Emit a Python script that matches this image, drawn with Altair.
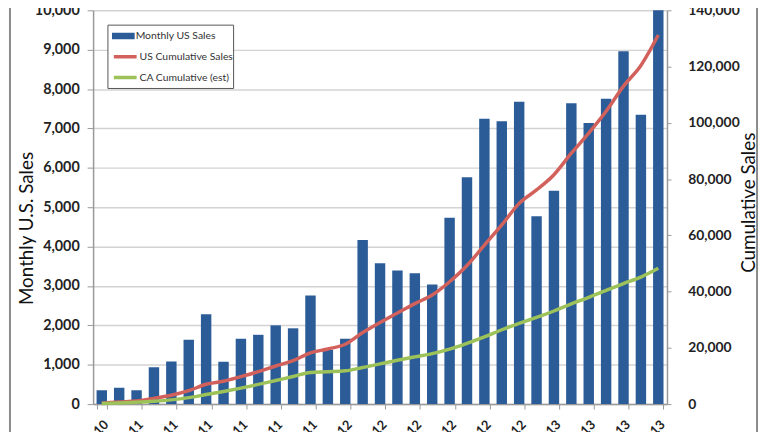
import altair as alt
import pandas as pd

# ---------------- data ----------------
months = [
    "Dec-10", "Jan-11", "Feb-11", "Mar-11", "Apr-11", "May-11", "Jun-11",
    "Jul-11", "Aug-11", "Sep-11", "Oct-11", "Nov-11", "Dec-11", "Jan-12",
    "Feb-12", "Mar-12", "Apr-12", "May-12", "Jun-12", "Jul-12", "Aug-12",
    "Sep-12", "Oct-12", "Nov-12", "Dec-12", "Jan-13", "Feb-13", "Mar-13",
    "Apr-13", "May-13", "Jun-13", "Jul-13", "Aug-13",
]
monthly_us = [
    350, 415, 355, 935, 1080, 1635, 2280, 1075, 1660, 1760, 2000, 1925,
    2755, 1380, 1660, 4170, 3580, 3390, 3325, 3040, 4730, 5760, 7245,
    7180, 7680, 4770, 5415, 7640, 7140, 7755, 8960, 7345, 10100,
]
us_cumulative = [
    350, 765, 1120, 2055, 3135, 4770, 7050, 8125, 9785, 11545, 13545,
    15470, 18225, 19605, 21265, 25435, 29015, 32405, 35730, 38770, 43500,
    49260, 56505, 63685, 71365, 76135, 81550, 89190, 96330, 104085,
    113045, 120390, 131200,
]
ca_cumulative = [
    200, 400, 650, 1000, 1500, 2300, 3400, 4500, 5700, 7000, 8400, 9800,
    11270, 11500, 11830, 13000, 14300, 15600, 16790, 17930, 19540, 21610,
    23910, 26440, 28740, 30800, 33100, 35620, 37930, 40450, 42870, 45170,
    48280,
]
bar_series = ["Monthly US Sales"]
bar_colors = ["#2B5C98"]
line_series = ["US Cumulative Sales", "CA Cumulative (est)"]
line_colors = ["#D2605B", "#9DC25A"]
left_ticks = list(range(0, 10001, 1000))
right_ticks = list(range(0, 140001, 20000))
x_label_months = months[::2]

# ---------------- tables ----------------
bars_df = pd.DataFrame({"month": months, "sales": monthly_us,
                        "series": bar_series * len(months)})
lines_df = pd.DataFrame({
    "month": months + months,
    "value": us_cumulative + ca_cumulative,
    "series": [line_series[0]] * len(months) + [line_series[1]] * len(months),
})
one_row = pd.DataFrame({"a": [0]})

FONT = "Lato"
W, H = 580, 398

legend_common = dict(
    title=None, orient="none", direction="vertical", symbolSize=529,
    labelFont=FONT, labelFontSize=10.5, labelColor="#333", padding=0,
    rowPadding=1, clipHeight=20, labelOffset=1,
)

x_enc = alt.X(
    "month:N", sort=months,
    scale=alt.Scale(paddingInner=0.4, paddingOuter=0.2),
    axis=alt.Axis(
        title=None, values=x_label_months, labelAngle=315,
        labelFont=FONT, labelFontSize=13, labelFontWeight="bold",
        labelColor="#222", tickBand="extent", tickSize=5,
        tickColor="#999", domainColor="#999", domainWidth=1.5,
        labelPadding=9,
    ),
)

bars = alt.Chart(bars_df).mark_bar(clip=True).encode(
    x=x_enc,
    y=alt.Y(
        "sales:Q",
        scale=alt.Scale(domain=[0, 10000], nice=False),
        axis=alt.Axis(
            values=left_ticks, format=",d", labelFont=FONT, labelFontSize=14.5,
            labelFontWeight="bold", labelColor="#222", labelPadding=8,
            tickSize=6, tickColor="#999", domainColor="#999",
            domainWidth=1.5, gridColor="#D3D3D3", gridWidth=1.5,
            title="Monthly U.S. Sales", titleFont=FONT, titleFontSize=19,
            titleFontWeight="normal", titleColor="#111", titleAngle=270,
            titleX=-67, titleY=220, titleAlign="center",
            titleBaseline="middle",
        ),
    ),
    fill=alt.Fill(
        "series:N",
        scale=alt.Scale(domain=bar_series, range=bar_colors),
        legend=alt.Legend(
            legendX=19, legendY=16,
            symbolType="M-1,-0.28H1V0.28H-1Z", symbolStrokeWidth=0,
            **legend_common,
        ),
    ),
)

lines = alt.Chart(lines_df).mark_line(
    strokeWidth=3.5, interpolate="monotone"
).encode(
    x=alt.X("month:N", sort=months),
    y=alt.Y(
        "value:Q",
        scale=alt.Scale(domain=[0, 140000], nice=False),
        axis=alt.Axis(
            orient="right", values=right_ticks, format=",d", grid=False,
            labelFont=FONT, labelFontSize=14, labelFontWeight="bold",
            labelColor="#222", labelPadding=17, tickSize=4,
            tickColor="#999", domainColor="#999", domainWidth=1.5,
            title="Cumulative Sales", titleFont=FONT, titleFontSize=19,
            titleFontWeight="normal", titleColor="#111", titleAngle=270,
            titleX=82, titleY=194, titleAlign="center",
            titleBaseline="middle",
        ),
    ),
    stroke=alt.Stroke(
        "series:N",
        scale=alt.Scale(domain=line_series, range=line_colors),
        legend=alt.Legend(
            legendX=19, legendY=37,
            symbolType="stroke", symbolStrokeWidth=3.5,
            **legend_common,
        ),
    ),
    detail="series:N",
)

legend_box = alt.Chart(one_row).mark_rect(
    fill="white", stroke="#555", strokeWidth=1
).encode(
    x=alt.value(15), x2=alt.value(142), y=alt.value(15), y2=alt.value(79)
)

frame_left = alt.Chart(one_row).mark_rule(color="#8A8A8A", strokeWidth=2).encode(
    x=alt.value(-84), y=alt.value(-10), y2=alt.value(460))
frame_right = alt.Chart(one_row).mark_rule(color="#8A8A8A", strokeWidth=2).encode(
    x=alt.value(671), y=alt.value(-10), y2=alt.value(460))

chart = alt.layer(bars, lines, legend_box, frame_left, frame_right).resolve_scale(
    y="independent"
).properties(
    width=W, height=H, autosize="none",
    padding={"left": 86, "top": 0, "right": 94, "bottom": 40},
    background="white",
).configure_view(stroke=None)

chart.save("out.html", embed_options={"renderer": "svg", "actions": False})
